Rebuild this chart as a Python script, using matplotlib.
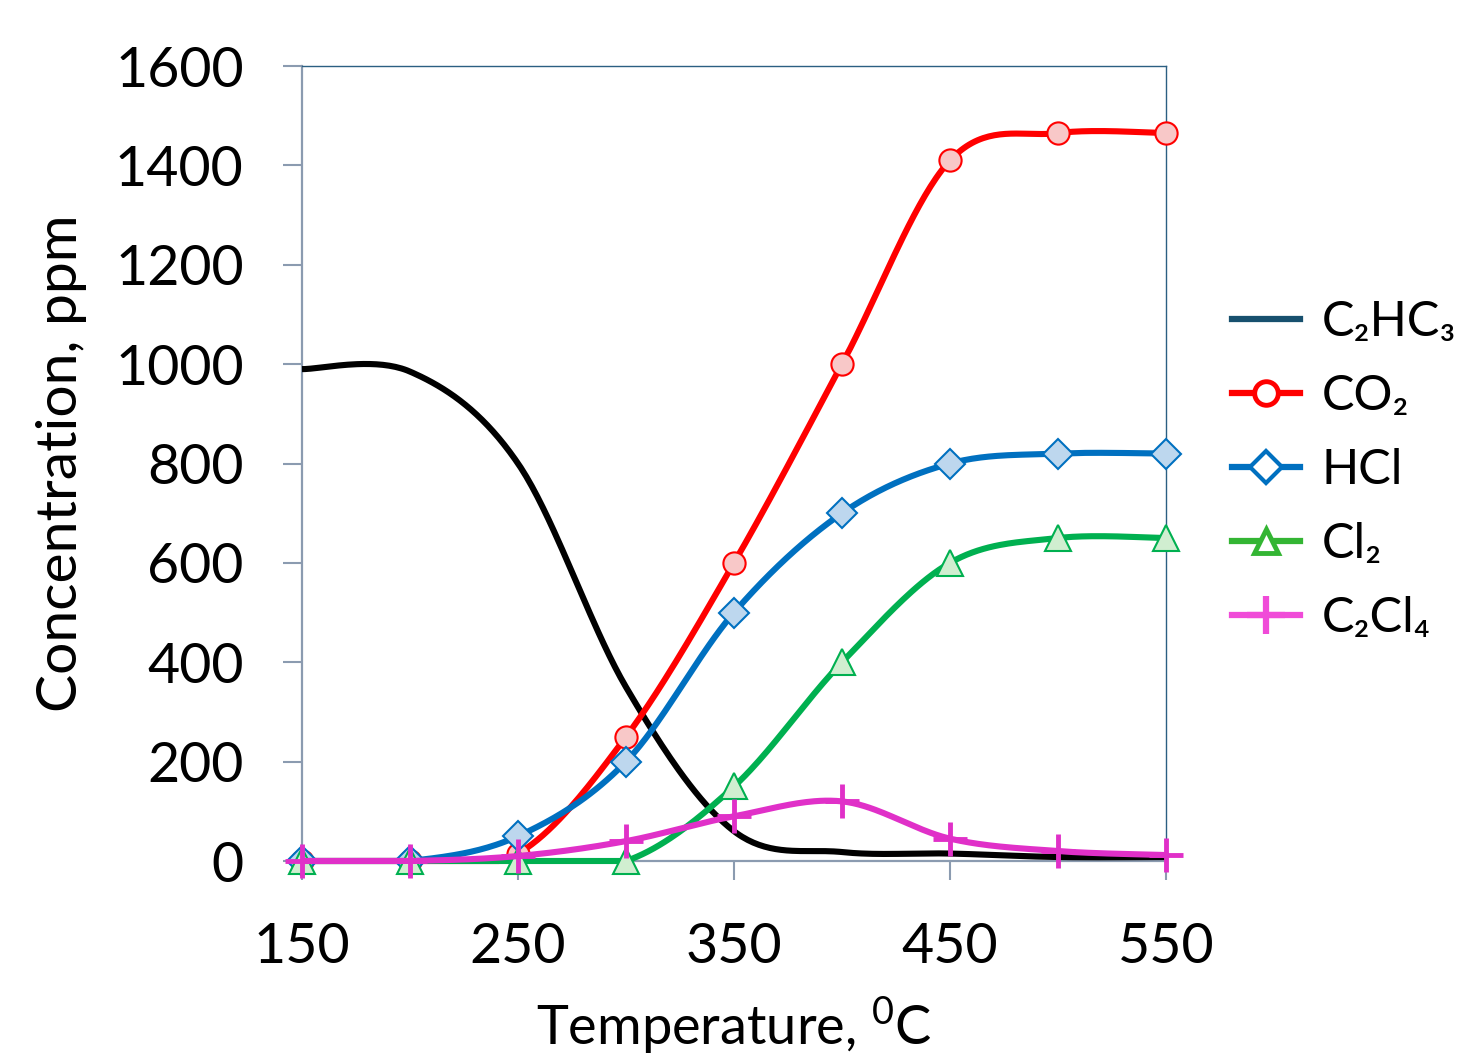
import numpy as np
import matplotlib
matplotlib.use('Agg')
import matplotlib.pyplot as plt
from matplotlib.lines import Line2D

plt.rcParams['font.family'] = ['Lato', 'DejaVu Sans']
plt.rcParams['mathtext.fontset'] = 'custom'
plt.rcParams['mathtext.rm'] = 'Lato'
plt.rcParams['mathtext.it'] = 'Lato'

# data
temps = [150, 200, 250, 300, 350, 400, 450, 500, 550]
c2hc3 = [990, 985, 800, 350, 60, 18, 15, 8, 8]
co2 = [0, 0, 15, 250, 600, 1000, 1410, 1465, 1465]
hcl = [0, 0, 50, 200, 500, 700, 800, 820, 820]
cl2 = [0, 0, 0, 0, 150, 400, 600, 650, 650]
c2cl4 = [0, 0, 10, 40, 90, 120, 45, 20, 12]

x_ticks = [150, 250, 350, 450, 550]
y_ticks = [0, 200, 400, 600, 800, 1000, 1200, 1400, 1600]
labels = ['C₂HC₃', 'CO₂', 'HCl', 'Cl₂', 'C₂Cl₄']


def smooth(x, y, n=40):
    # excel-like smoothed line (bezier through the points)
    x = np.asarray(x, float)
    y = np.asarray(y, float)
    px = np.concatenate([[x[0]], x, [x[-1]]])
    py = np.concatenate([[y[0]], y, [y[-1]]])
    xs, ys = [], []
    t = np.linspace(0, 1, n)
    for i in range(1, len(px) - 2):
        p0 = np.array([px[i], py[i]])
        p3 = np.array([px[i + 1], py[i + 1]])
        p1 = p0 + (np.array([px[i + 1], py[i + 1]]) - np.array([px[i - 1], py[i - 1]])) / 6
        p2 = p3 - (np.array([px[i + 2], py[i + 2]]) - np.array([px[i], py[i]])) / 6
        b = ((1 - t) ** 3)[:, None] * p0 + (3 * (1 - t) ** 2 * t)[:, None] * p1 \
            + (3 * (1 - t) * t ** 2)[:, None] * p2 + (t ** 3)[:, None] * p3
        xs.extend(b[:, 0])
        ys.extend(b[:, 1])
    return np.array(xs), np.maximum(np.array(ys), 0)


fig = plt.figure(figsize=(14.62, 10.64), dpi=100)
ax = fig.add_axes([302 / 1462, 203 / 1064, 864 / 1462, 795 / 1064])

lw = 4.4
series = [
    (c2hc3, 'black', None, None, None, 12),
    (co2, '#ff0000', 'o', '#f8c8c8', 16, 14),
    (hcl, '#0070c0', 'D', '#bdd7ee', 15, 14),
    (cl2, '#00b050', '^', '#d0eed0', 19, 16),
    (c2cl4, '#e030c8', '+', '#e030c8', 24, 17),
]
for vals, col, mk, fc, ms, z in series:
    sx, sy = smooth(temps, vals)
    ax.plot(sx, sy, color=col, lw=lw, solid_capstyle='butt', zorder=z, clip_on=False)
    if mk is not None:
        ax.plot(temps, vals, ls='none', marker=mk, ms=ms, mfc=fc, mec=col,
                mew=1.5 if mk != '+' else 3.5, zorder=z + 0.5, clip_on=False)

ax.set_xlim(150, 550)
ax.set_ylim(0, 1600)
ax.set_xticks(x_ticks)
ax.set_yticks(y_ticks)
ax.tick_params(axis='both', direction='out', length=14, width=1.5, color='#8b9bb0',
               labelsize=40, pad=28)
ax.tick_params(axis='x', pad=30)

for s in ['left', 'bottom']:
    ax.spines[s].set_color('#8b9bb0')
    ax.spines[s].set_linewidth(1.6)
for s in ['top', 'right']:
    ax.spines[s].set_color('#2b5f82')
    ax.spines[s].set_linewidth(1.0)

ax.set_xlabel('Temperature, $^0$C', fontsize=39, labelpad=16)
ax.set_ylabel('Concentration, ppm', fontsize=41, labelpad=20)

handles = [
    Line2D([], [], color='#17506e', lw=4.5),
    Line2D([], [], color='#ff0000', lw=4.5, marker='o', ms=17, mfc='white', mec='#ff0000', mew=3.5),
    Line2D([], [], color='#0070c0', lw=4.5, marker='D', ms=16, mfc='white', mec='#0070c0', mew=3),
    Line2D([], [], color='#33b533', lw=4.5, marker='^', ms=17, mfc='white', mec='#33b533', mew=3.5),
    Line2D([], [], color='#f04bd8', lw=4.5, marker='+', ms=28, mec='#f04bd8', mew=4.5),
]
fig.legend(handles, labels, loc='center left', bbox_to_anchor=(1232 / 1462, 1 - 470 / 1064),
           frameon=False, fontsize=35, handlelength=1.4, handletextpad=0.45,
           labelspacing=0.62, borderaxespad=0, borderpad=0)

fig.savefig('out.png', dpi=100)
